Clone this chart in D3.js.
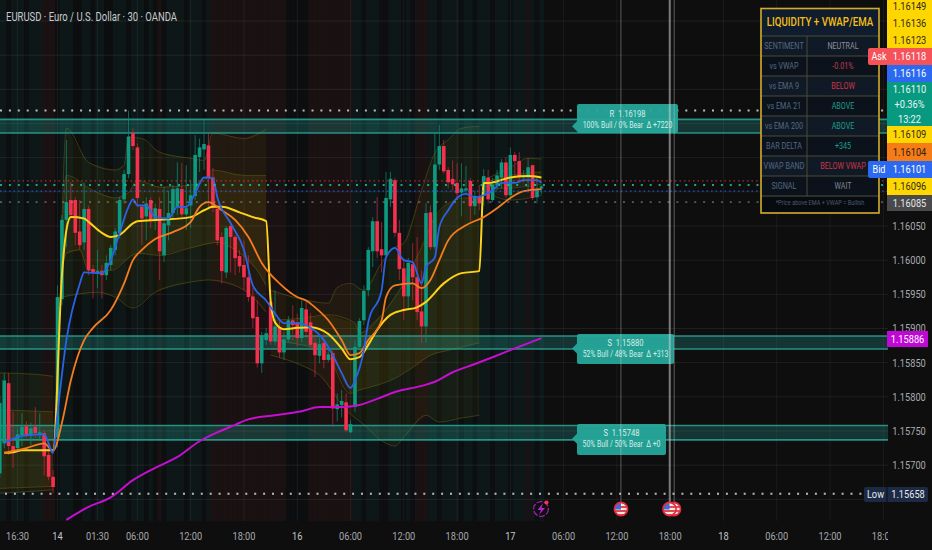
<!DOCTYPE html>
<html><head><meta charset="utf-8">
<script src="https://cdn.jsdelivr.net/npm/d3@7"></script>
<style>html,body{margin:0;padding:0;background:#0e0e0e;overflow:hidden}svg{display:block}text{font-family:Roboto,sans-serif;white-space:pre}</style>
</head><body><svg id="c" width="932" height="550"></svg>
<script>
const firstBar=-13;
const opens=[1.15688,1.15732,1.15820,1.15728,1.15725,1.15744,1.15757,1.15743,1.15756,1.15744,1.15747,1.15715,1.15683,
1.15741,1.15943,1.16059,1.16088,1.16088,1.16042,1.16026,1.16075,1.15987,1.15981,1.15984,1.15978,1.15993,1.16015,1.16040,1.16089,1.16126,1.16186,1.16165,1.16078,1.16064,1.16088,1.16059,1.16075,1.16007,1.16051,1.16069,1.16078,1.16104,1.16067,1.16080,1.16094,1.16151,1.16162,1.16168,1.16121,1.16075,1.16034,1.15982,1.16050,1.16034,1.16006,1.15993,1.15975,1.15947,1.15917,1.15849,1.15883,1.15939,1.15881,1.15902,1.15865,1.15884,1.15912,1.15909,1.15886,1.15928,1.15909,1.15879,1.15860,1.15879,1.15854,1.15864,1.15782,1.15788,1.15792,1.15748,1.15785,1.15873,1.15912,1.15956,1.16013,1.16057,1.16016,1.16007,1.16089,1.16117,1.16040,1.15988,1.15947,1.15994,1.15975,1.15925,1.15903,1.16070,1.16019,1.16140,1.16167,1.16132,1.16119,1.16113,1.16099,1.16102,1.16116,1.16079,1.16094,1.16094,1.16121,1.16088,1.16110,1.16121,1.16143,1.16095,1.16154,1.16145,1.16121,1.16121,1.16139,1.16092,1.16105];
const highs=[1.15802,1.15835,1.15835,1.15778,1.15754,1.15776,1.15764,1.15762,1.15785,1.15776,1.15751,1.15725,1.15693,
1.15963,1.16066,1.16176,1.16114,1.16092,1.16088,1.16114,1.16080,1.15993,1.16015,1.15993,1.16007,1.16022,1.16047,1.16092,1.16132,1.16219,1.16193,1.16171,1.16080,1.16092,1.16092,1.16083,1.16092,1.16107,1.16102,1.16110,1.16143,1.16142,1.16139,1.16117,1.16183,1.16178,1.16205,1.16186,1.16135,1.16080,1.16041,1.16050,1.16053,1.16037,1.16015,1.16029,1.16007,1.15960,1.15941,1.15895,1.15901,1.15953,1.15956,1.15915,1.15895,1.15918,1.15934,1.15922,1.15941,1.15941,1.15922,1.15890,1.15887,1.15893,1.15873,1.15868,1.15805,1.15810,1.15805,1.15766,1.15883,1.15915,1.15963,1.16019,1.16063,1.16092,1.16056,1.16129,1.16129,1.16120,1.16059,1.16003,1.16003,1.16025,1.16034,1.15985,1.16083,1.16080,1.16186,1.16198,1.16176,1.16136,1.16146,1.16142,1.16142,1.16138,1.16120,1.16102,1.16110,1.16133,1.16132,1.16120,1.16132,1.16148,1.16151,1.16165,1.16158,1.16158,1.16132,1.16149,1.16139,1.16121,1.16110];
const lows=[1.15681,1.15725,1.15715,1.15696,1.15719,1.15728,1.15740,1.15729,1.15741,1.15737,1.15685,1.15678,1.15659,
1.15726,1.15934,1.16019,1.16059,1.16022,1.16015,1.16015,1.15978,1.15944,1.15959,1.15944,1.15971,1.15985,1.16007,1.16032,1.16083,1.16120,1.16161,1.16078,1.16022,1.16029,1.16047,1.16044,1.15971,1.15997,1.16029,1.16059,1.16066,1.16063,1.16044,1.16047,1.16088,1.16129,1.16132,1.16078,1.16070,1.16022,1.15966,1.15974,1.15982,1.15978,1.15982,1.15956,1.15939,1.15901,1.15843,1.15835,1.15876,1.15876,1.15876,1.15857,1.15854,1.15880,1.15883,1.15873,1.15880,1.15886,1.15870,1.15829,1.15849,1.15842,1.15851,1.15759,1.15764,1.15770,1.15748,1.15747,1.15778,1.15868,1.15905,1.15947,1.15990,1.16003,1.15982,1.16003,1.16078,1.16034,1.15971,1.15912,1.15930,1.15941,1.15912,1.15879,1.15879,1.16015,1.16015,1.16132,1.16127,1.16105,1.16102,1.16088,1.16064,1.16098,1.16057,1.16066,1.16073,1.16080,1.16083,1.16085,1.16102,1.16105,1.16091,1.16088,1.16120,1.16114,1.16114,1.16099,1.16088,1.16083,1.16097];
const closes=[1.15791,1.15824,1.15728,1.15721,1.15745,1.15756,1.15743,1.15754,1.15747,1.15748,1.15713,1.15683,1.15668,
1.15946,1.16059,1.16085,1.16066,1.16040,1.16022,1.16075,1.15985,1.15981,1.15984,1.15978,1.15996,1.16018,1.16042,1.16088,1.16126,1.16181,1.16167,1.16091,1.16061,1.16083,1.16059,1.16076,1.16013,1.16054,1.16069,1.16104,1.16105,1.16067,1.16076,1.16095,1.16154,1.16165,1.16170,1.16121,1.16078,1.16029,1.15984,1.16047,1.16034,1.16003,1.15991,1.15975,1.15946,1.15915,1.15849,1.15890,1.15893,1.15881,1.15903,1.15865,1.15884,1.15912,1.15905,1.15886,1.15930,1.15895,1.15876,1.15861,1.15877,1.15854,1.15862,1.15783,1.15789,1.15794,1.15751,1.15760,1.15873,1.15911,1.15955,1.16015,1.16057,1.16013,1.16007,1.16091,1.16119,1.16040,1.15987,1.15947,1.15996,1.15975,1.15924,1.15903,1.16069,1.16019,1.16140,1.16167,1.16130,1.16114,1.16111,1.16098,1.16105,1.16105,1.16079,1.16094,1.16083,1.16123,1.16089,1.16111,1.16124,1.16143,1.16095,1.16154,1.16145,1.16121,1.16123,1.16136,1.16091,1.16105,1.16108];
const bgTones=[1,1,0,1,1,1,0,1,1,1,2,2,2,0,1,1,1,0,0,1,1,0,1,1,0,0,1,1,1,0,1,1,1,0,1,0,2,0,1,1,1,1,0,1,1,1,0,1,2,2,2,2,2,2,2,2,2,2,2,2,2,2,2,2,2,0,0,0,0,0,2,2,2,2,2,2,2,2,2,2,1,1,0,1,1,1,0,0,1,1,1,0,1,0,2,2,2,1,1,0,1,1,1,1,0,1,1,0,1,1,1,0,1,1,1,0,1,1,1,2,1,0,1];

const ema9=[[-12,1.15732],[-8,1.15743],[-3,1.15745],[-1,1.15718],[0,1.15776],[2,1.15883],[5,1.15965],[6,1.15982],[10,1.15981],[12,1.16000],[14,1.16040],[16,1.16078],[17,1.16089],[18,1.16080],[20,1.16080],[22,1.16063],[25,1.16061],[27,1.16078],[29,1.16078],[31,1.16098],[33,1.16121],[35,1.16120],[36,1.16092],[39,1.16054],[42,1.16015],[44,1.15963],[47,1.15941],[49,1.15922],[51,1.15908],[54,1.15908],[57,1.15901],[60,1.15883],[62,1.15861],[64,1.15835],[66,1.15813],[67,1.15824],[69,1.15868],[70,1.15909],[73,1.15956],[74,1.16004],[76,1.16018],[78,1.16000],[80,1.15997],[82,1.15966],[83,1.15990],[85,1.16004],[86,1.16048],[88,1.16073],[90,1.16091],[92,1.16097],[94,1.16092],[96,1.16095],[98,1.16102],[100,1.16113],[103,1.16113],[105,1.16117],[108,1.16117],[109,1.16113]];
const ema21=[[-12,1.15718],[-7,1.15725],[-3,1.15732],[-1,1.15721],[1,1.15762],[3,1.15824],[6,1.15883],[8,1.15901],[12,1.15927],[15,1.15966],[17,1.16000],[19,1.16015],[22,1.16031],[26,1.16041],[30,1.16056],[32,1.16078],[34,1.16085],[37,1.16073],[40,1.16059],[43,1.16034],[46,1.15996],[50,1.15966],[54,1.15946],[56,1.15941],[58,1.15931],[61,1.15912],[64,1.15883],[66,1.15861],[68,1.15864],[70,1.15883],[73,1.15912],[74,1.15946],[76,1.15963],[80,1.15966],[82,1.15959],[84,1.15971],[86,1.16000],[88,1.16029],[92,1.16051],[96,1.16063],[99,1.16076],[102,1.16091],[105,1.16101],[109,1.16104]];
const vwap=[[-12,1.15718],[-10,1.15719],[-8,1.15722],[-1,1.15722],[1,1.15978],[2,1.16044],[3,1.16063],[6,1.16061],[7,1.16056],[10,1.16040],[12,1.16034],[14,1.16037],[17,1.16054],[18,1.16057],[23,1.16059],[30,1.16063],[33,1.16073],[35,1.16078],[37,1.16078],[41,1.16070],[44,1.16063],[47,1.16057],[48,1.15941],[49,1.15909],[51,1.15899],[54,1.15901],[57,1.15902],[61,1.15892],[64,1.15871],[66,1.15855],[68,1.15858],[70,1.15876],[72,1.15898],[75,1.15920],[78,1.15927],[81,1.15931],[83,1.15939],[87,1.15966],[91,1.15981],[95,1.15984],[96,1.16113],[97,1.16113],[102,1.16121],[106,1.16123],[109,1.16121]];
const ema200=[[2,1.15620],[7,1.15639],[12,1.15653],[17,1.15678],[22,1.15696],[27,1.15712],[32,1.15735],[36,1.15748],[40,1.15759],[43,1.15767],[49,1.15773],[55,1.15779],[59,1.15785],[64,1.15785],[68,1.15788],[72,1.15797],[76,1.15807],[82,1.15816],[85,1.15822],[89,1.15836],[94,1.15848],[98,1.15858],[103,1.15871],[109,1.15886]];

const bandOuterUpper=[
[[-13,1.15835],[-5,1.15833],[-1,1.15830]],
[[1,1.16054],[2,1.16193],[7,1.16143],[13,1.16132],[15,1.16139],[16,1.16180],[19,1.16178],[23,1.16158],[30,1.16149],[33,1.16146],[35,1.16186],[42,1.16178],[47,1.16192]],
[[48,1.15956],[58,1.15939],[61,1.15937],[63,1.15960],[66,1.15966],[69,1.15956],[73,1.15996],[76,1.16019],[78,1.16025],[82,1.16102],[85,1.16157],[88,1.16176],[91,1.16193],[95,1.16196]],
[[96,1.16117],[102,1.16136],[106,1.16149],[109,1.16148]]];
const bandInnerUpper=[
[[-13,1.15781],[-5,1.15779],[-1,1.15778]],
[[1,1.16029],[2,1.16124],[8,1.16102],[13,1.16091],[16,1.16099],[18,1.16117],[23,1.16107],[30,1.16110],[33,1.16117],[35,1.16132],[42,1.16124],[47,1.16124]],
[[48,1.15912],[55,1.15915],[61,1.15920],[67,1.15908],[68,1.15893],[73,1.15920],[77,1.15956],[82,1.16019],[85,1.16063],[88,1.16083],[92,1.16091],[95,1.16088]],
[[96,1.16113],[102,1.16124],[109,1.16129]]];
const bandInnerLower=[
[[-13,1.15666],[-1,1.15669]],
[[1,1.15985],[2,1.16010],[5,1.16015],[7,1.15985],[12,1.15985],[18,1.16010],[23,1.16007],[30,1.16018],[36,1.16026],[40,1.16015],[45,1.15985],[47,1.15963]],
[[48,1.15883],[55,1.15876],[60,1.15868],[66,1.15805],[68,1.15810],[72,1.15817],[76,1.15827],[80,1.15843],[84,1.15861],[88,1.15868],[93,1.15876],[95,1.15879]],
[[96,1.16108],[100,1.16105],[109,1.16111]]];
const bandOuterLower=[
[[-13,1.15659],[-5,1.15662],[-1,1.15664]],
[[1,1.15946],[9,1.15953],[13,1.15946],[17,1.15930],[22,1.15953],[30,1.15968],[34,1.15971],[41,1.15960],[44,1.15946],[47,1.15924]],
[[48,1.15861],[55,1.15846],[59,1.15832],[65,1.15781],[69,1.15759],[74,1.15732],[76,1.15728],[78,1.15741],[83,1.15773],[86,1.15763],[91,1.15769],[95,1.15773]],
[[96,1.16102],[102,1.16088],[109,1.16095]]];

const zoneHi=[1.16206,1.15889,1.15758], zoneLo=[1.16186,1.15870,1.15737];
const zoneTitle=["R  1.16198","S  1.15880","S  1.15748"];
const zoneStats=["100% Bull / 0% Bear  Δ +7220","52% Bull / 48% Bear  Δ +313","50% Bull / 50% Bear  Δ +0"];
const priceTicks=[1.16050,1.16000,1.15950,1.15900,1.15850,1.15800,1.15750,1.15700];
const gridPrices=[1.16350,1.16300,1.16250,1.16200,1.16150,1.16100,1.16050,1.16000,1.15950,1.15900,1.15850,1.15800,1.15750,1.15700,1.15650];
const timeBars=[-9,0,9,18,30,42,54,66,78,90,102,114,126,138,150,162,174,186];
const timeLabels=["16:30","14","01:30","06:00","12:00","18:00","16","06:00","12:00","18:00","17","06:00","12:00","18:00","18","06:00","12:00","18:00"];
const eventBars=[126.9,137.9,138.9];
const tableLeft=["SENTIMENT","vs VWAP","vs EMA 9","vs EMA 21","vs EMA 200","BAR DELTA","VWAP BAND","SIGNAL"];
const tableRight=["NEUTRAL","-0.01%","BELOW","ABOVE","ABOVE","+345","BELOW VWAP","WAIT"];
const tableRightColor=["#8b9097","#c23a4c","#d23244","#1f9c86","#1f9c86","#1f9c86","#d23244","#7d848c"];

const W=932,H=550,plotR=888,plotB=521;
const x=d3.scaleLinear().domain([0,186]).range([57.5,883.3]);
const y=d3.scaleLinear().domain([1.1575,1.1605]).range([431,226]);
const bw=3.6;
const svg=d3.select("#c");
svg.append("rect").attr("width",W).attr("height",H).attr("fill","#0e0e0f");
const defs=svg.append("defs");
defs.append("clipPath").attr("id","plot").append("rect").attr("width",plotR).attr("height",plotB);
const plot=svg.append("g").attr("clip-path","url(#plot)");
const toneCol=["#0c0e0f","#0e1718","#1a1112"];
const barIdx=d3.range(opens.length).map(i=>i+firstBar);
plot.selectAll(".s").data(barIdx).join("rect").attr("x",i=>x(i)-x(0.5)+x(0)).attr("y",0)
 .attr("width",x(1)-x(0)+.4).attr("height",plotB).attr("fill",i=>toneCol[bgTones[i-firstBar]]);
plot.selectAll(".g").data(gridPrices).join("line").attr("x1",0).attr("x2",plotR).attr("y1",d=>y(d)).attr("y2",d=>y(d)).attr("stroke","#fff").attr("stroke-opacity",.07);
plot.selectAll(".v").data(timeBars).join("line").attr("y1",0).attr("y2",plotB).attr("x1",d=>x(d)).attr("x2",d=>x(d)).attr("stroke","#fff").attr("stroke-opacity",.055);

const ln=d3.line().x(d=>x(d[0])).y(d=>y(d[1]));
const sm=d3.line().x(d=>x(d[0])).y(d=>y(d[1])).curve(d3.curveMonotoneX);
function poly(a,b){return ln(a.concat(b.slice().reverse()))+"Z";}
bandOuterUpper.forEach((s,k)=>{
 plot.append("path").attr("d",poly(s,bandOuterLower[k])).attr("fill","#c9a800").attr("fill-opacity",.05);
 plot.append("path").attr("d",poly(bandInnerUpper[k],bandInnerLower[k])).attr("fill","#c9a800").attr("fill-opacity",.09);
 [s,bandInnerUpper[k],bandInnerLower[k],bandOuterLower[k]].forEach(l=>
  plot.append("path").attr("d",sm(l)).attr("fill","none").attr("stroke","#6b5f14").attr("stroke-opacity",.5).attr("stroke-width",1));
});

zoneHi.forEach((h,k)=>{
 const t=y(h),b=y(zoneLo[k]);
 plot.append("rect").attr("x",0).attr("width",plotR).attr("y",t).attr("height",b-t).attr("fill","#26a69a").attr("fill-opacity",.26);
 [t,b].forEach(v=>plot.append("line").attr("x1",0).attr("x2",plotR).attr("y1",v).attr("y2",v).attr("stroke","#2aa596").attr("stroke-opacity",.85).attr("stroke-width",1.6));
});

const up=i=>closes[i]>=opens[i];
plot.selectAll(".w").data(d3.range(opens.length)).join("line")
 .attr("x1",i=>x(i+firstBar)).attr("x2",i=>x(i+firstBar)).attr("y1",i=>y(highs[i])).attr("y2",i=>y(lows[i]))
 .attr("stroke",i=>up(i)?"#0d8f78":"#c42a42").attr("stroke-opacity",.7).attr("stroke-width",1);
plot.selectAll(".b").data(d3.range(opens.length)).join("rect")
 .attr("x",i=>x(i+firstBar)-bw/2).attr("width",bw)
 .attr("y",i=>y(Math.max(opens[i],closes[i])))
 .attr("height",i=>Math.max(1,Math.abs(y(opens[i])-y(closes[i]))))
 .attr("fill",i=>up(i)?"#0d9a80":"#f7304f");

[[ema200,"#c60fd0",2],[vwap,"#ffd21a",2],[ema21,"#f57c1f",1.8],[ema9,"#2a62e8",1.8]].forEach(([d,c,w])=>
 plot.append("path").attr("d",sm(d)).attr("fill","none").attr("stroke",c).attr("stroke-width",w).attr("stroke-linejoin","round"));

// table
const tb=svg.append("g");
function T(p,px,py,s,o={}){const n=p.append("text").attr("x",px).attr("y",py).attr("dy","0.35em").text(s)
 .attr("font-size",o.size||11).attr("fill",o.color||"#b2b5be").attr("text-anchor",o.anchor||"middle").attr("font-weight",o.weight||400);
 const k=o.sx||.82;n.attr("textLength",n.node().getComputedTextLength()*k).attr("lengthAdjust","spacingAndGlyphs");
 return n;}
const rowH=20,tTop=36;
tb.append("rect").attr("x",761).attr("y",8).attr("width",118).attr("height",205).attr("fill","#0c1520");
tb.append("rect").attr("x",762).attr("y",9).attr("width",116).attr("height",27).attr("fill","#0f1d2f");
tableLeft.forEach((s,i)=>{
 const yy=tTop+i*rowH;
 tb.append("rect").attr("x",762).attr("y",yy).attr("width",116).attr("height",rowH).attr("fill",i%2?"#0b121c":"#101a27");
 tb.append("line").attr("x1",761).attr("x2",879).attr("y1",yy).attr("y2",yy).attr("stroke","#4d4a35");
 T(tb,784,yy+10,s,{size:9,color:"#56687e",sx:.8});
 T(tb,843,yy+10,tableRight[i],{size:9,color:tableRightColor[i],sx:.8});
});
tb.append("line").attr("x1",761).attr("x2",879).attr("y1",196).attr("y2",196).attr("stroke","#4d4a35");
tb.append("line").attr("x1",807).attr("x2",807).attr("y1",36).attr("y2",196).attr("stroke","#4d4a35");
tb.append("rect").attr("x",762).attr("y",197).attr("width",116).attr("height",15).attr("fill","#070a0f");
T(tb,820,203,"*Price above EMA + VWAP = Bullish",{size:7,color:"#4a5a6c",sx:.8});
T(tb,820,22,"LIQUIDITY + VWAP/EMA",{size:12,color:"#f5bf14",sx:.81,weight:500});
tb.append("rect").attr("x",761).attr("y",8.5).attr("width",118).attr("height",204.5).attr("fill","none").attr("stroke","#d3ad2b").attr("stroke-width",1.6);

// dotted levels
const dotted=[[1.16219,"#d9d9d9","2 6.9",2,.85],[1.16116,"#e0344f","1.6 2.9",1.2,.7],[1.16110,"#19c3a4","2 6.9",2,.85],[1.16101,"#2962ff","1.6 2.9",1.2,.75],[1.16085,"#9a9a9a","2 6.9",1.6,.55],[1.15658,"#d9d9d9","2 6.9",2,.85]];
dotted.forEach(([v,c,da,w,o],k)=>plot.append("line").attr("x1",k===5?5:0).attr("x2",k===5?864:plotR).attr("y1",y(v)).attr("y2",y(v)).attr("stroke",c).attr("stroke-dasharray",da).attr("stroke-width",w).attr("stroke-opacity",o));

// zone labels
const boxW=[101,97,89];
const boxTop=[104,334,424],boxBot=[133,364,455];
zoneHi.forEach((h,k)=>{
 const ym=(y(h)+y(zoneLo[k]))/2+ (k?6:0);
 const l=577,r=l+boxW[k],t=boxTop[k],b=boxBot[k];
 svg.append("path").attr("d",`M${l+2},${t}H${r-2}Q${r},${t} ${r},${t+2}V${b-2}Q${r},${b} ${r-2},${b}H${l+2}Q${l},${b} ${l},${b-2}V${ym+5}L${l-5},${ym}L${l},${ym-5}V${t+2}Q${l},${t} ${l+2},${t}Z`)
  .attr("fill","#26a69a").attr("fill-opacity",.95);
 const cx=(l+r)/2;
 T(svg,cx,t+(k?9:9.5),zoneTitle[k],{size:9.5,color:"#d5efea",sx:.8});
 T(svg,cx,t+(k?20:20.5),zoneStats[k],{size:9,color:"#d5efea",sx:.76});
});

// events
eventBars.map(b=>x(b)).forEach((vx,k)=>{
 svg.append("line").attr("x1",vx).attr("x2",vx).attr("y1",0).attr("y2",502).attr("stroke","#cfcfcf").attr("stroke-opacity",k===1?.55:.4).attr("stroke-width",k===1?2:1);
});
function flag(fx,fy){const g=svg.append("g");
 const id="f"+Math.round(fx);
 defs.append("clipPath").attr("id",id).append("circle").attr("cx",fx).attr("cy",fy).attr("r",6);
 const c=g.append("g").attr("clip-path",`url(#${id})`);
 c.append("rect").attr("x",fx-7).attr("y",fy-7).attr("width",14).attr("height",14).attr("fill","#f3ead8");
 [-3,1,5].forEach(d=>c.append("rect").attr("x",fx-7).attr("y",fy+d).attr("width",14).attr("height",2).attr("fill","#e0485a"));
 c.append("rect").attr("x",fx-7).attr("y",fy-7).attr("width",7).attr("height",7.5).attr("fill","#3f6fd6");
 g.append("circle").attr("cx",fx).attr("cy",fy).attr("r",6.6).attr("fill","none").attr("stroke","#e8283e").attr("stroke-width",1.6);
}
flag(674,509);flag(669.5,509);flag(621,509);
svg.append("circle").attr("cx",541).attr("cy",509).attr("r",7.4).attr("fill","#0e0e0f").attr("stroke","#a11cb0").attr("stroke-width",1.3).attr("stroke-dasharray","6 1.5");
svg.append("path").attr("d","M543,503L537.5,510H541L539,515L545,508H541.5Z").attr("fill","#b524c4");
svg.append("circle").attr("cx",546.5).attr("cy",502.5).attr("r",2).attr("fill","#f23645");

// axes
svg.append("rect").attr("x",0).attr("y",plotB).attr("width",W).attr("height",H-plotB).attr("fill","#0e0e0f");
svg.append("rect").attr("x",plotR).attr("y",0).attr("width",W-plotR).attr("height",H).attr("fill","#0e0e0f");
defs.append("clipPath").attr("id","ax").append("rect").attr("width",plotR).attr("height",H);
const axg=svg.append("g").attr("clip-path","url(#ax)");
timeBars.forEach((b,i)=>{const day=/^\d\d$/.test(timeLabels[i]);
 T(axg,x(b),536,timeLabels[i],{size:11,color:day?"#c3c6cc":"#a6a8ac",sx:.84});});
priceTicks.forEach(p=>T(svg,909,y(p),p.toFixed(5),{size:11,color:"#a9abae",sx:.84}));

function tag(t,b,fill,col,lines,r){
 svg.append("rect").attr("x",887).attr("y",t).attr("width",(r||932)-887).attr("height",b-t).attr("fill",fill);
 const st=(b-t)/lines.length;
 lines.forEach((s,i)=>T(svg,(887+(r||932))/2,t+st*(i+.5),s,{size:11,color:col,sx:.84}));
}
tag(0,48,"#ffd600","#2b2b1f",[]);
["1.16149","1.16136","1.16123"].forEach((s,i)=>T(svg,909.5,6+i*17.3,s,{size:11,color:"#2b2b1f",sx:.84}));
tag(48,65,"#f5525a","#fff",["1.16118"]);
tag(65,82,"#2b6af0","#fff",["1.16116"]);
tag(82,126,"#089981","#e9f7f3",["1.16110","+0.36%","13:22"]);
tag(126,143,"#ffd600","#2b2b1f",["1.16109"]);
tag(143,161,"#f57c17","#2a2015",["1.16104"]);
tag(161,178,"#2b6af0","#fff",["1.16101"]);
tag(178,195,"#ffd600","#2b2b1f",["1.16096"]);
tag(195,211,"#4a4a4c","#e8e8e8",["1.16085"]);
[[48,65,"#f5525a","Ask"],[161,178,"#2b6af0","Bid"]].forEach(([t,b,f,s])=>{
 svg.append("rect").attr("x",868).attr("y",t).attr("width",20).attr("height",b-t).attr("rx",2).attr("fill",f);
 T(svg,879,(t+b)/2,s,{size:11,color:"#fff",sx:.82});
});
tag(331,347,"#c107d6","#fff",["1.15886"],928);
svg.append("rect").attr("x",864).attr("y",487).attr("width",64).attr("height",15).attr("rx",2).attr("fill","#1c2a45");
svg.append("line").attr("x1",887).attr("x2",887).attr("y1",487).attr("y2",502).attr("stroke","#0e0e0f");
T(svg,875.5,494.5,"Low",{size:11,color:"#e6e9ef",sx:.84});
T(svg,908,494.5,"1.15658",{size:11,color:"#e6e9ef",sx:.84});
T(svg,6,17,"EURUSD · Euro / U.S. Dollar · 30 · OANDA",{size:12.5,color:"#c7cacd",anchor:"start",sx:.76});
</script></body></html>
